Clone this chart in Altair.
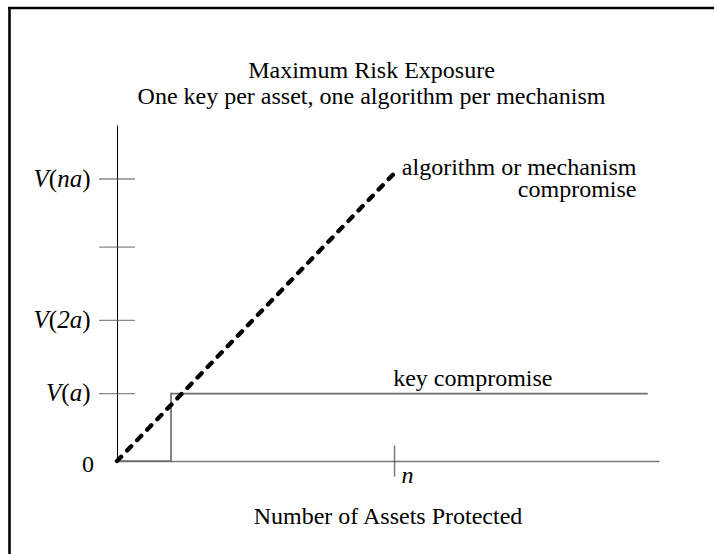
import altair as alt
import pandas as pd

FONT = "Liberation Serif"

# ---- data / text ----
TITLE_LINES = ["Maximum Risk Exposure", "One key per asset, one algorithm per mechanism"]
X_TITLE = "Number of Assets Protected"

# y tick values (units of V(a)) and their labels as (text, italic) pieces
Y_TICK_VALUES = [0.955, 1.995, 3.035, 4.0]
Y_TICK_LABELS = [
    [("V", True), ("(", False), ("a", True), (")", False)],
    [("V", True), ("(", False), ("2a", True), (")", False)],
    [],
    [("V", True), ("(", False), ("na", True), (")", False)],
]
Y_ZERO_LABEL = "0"

N_VALUE = 5.14
N_LABEL = "n"

ALGO_X = [0, 5.14]
ALGO_Y = [0, 4.085]
ALGO_LABEL = ["algorithm or mechanism", "compromise"]
ALGO_LABEL_X = 9.62

KEY_X = [0, 1, 1, 9.83]
KEY_Y = [0, 0, 0.955, 0.955]
KEY_LABEL = "key compromise"
KEY_LABEL_X = 6.59

# ---- layout ----
PX_X = 54.0     # pixels per asset
PX_Y = 70.5     # pixels per V(a)
W, H = 542, 336
PAD = {"left": 117, "top": 125, "right": 55, "bottom": 93}

xs = alt.Scale(domain=[0, W / PX_X], nice=False, zero=False)
ys = alt.Scale(domain=[0, H / PX_Y], nice=False, zero=False)

x_axis = alt.Axis(
    title=X_TITLE, titleFont=FONT, titleFontSize=24, titleFontWeight="normal",
    titleColor="black", titleX=270.5, titleY=62, titleBaseline="alphabetic",
    titleAlign="center", titleAngle=0, labels=False, ticks=False, grid=False,
    domainColor="#777777", domainWidth=1.6,
)
y_axis = alt.Axis(title=None, labels=False, ticks=False, grid=False,
                  domainColor="black", domainWidth=1)


def enc(**kw):
    return dict(x=alt.X("x:Q", scale=xs, axis=x_axis),
                y=alt.Y("y:Q", scale=ys, axis=y_axis), **kw)


layers = []

# key compromise step line
key_df = pd.DataFrame({"x": KEY_X, "y": KEY_Y, "o": list(range(len(KEY_X)))})
layers.append(alt.Chart(key_df).mark_line(color="#6e6e6e", strokeWidth=1.7)
              .encode(**enc(order="o:Q")))

# algorithm or mechanism dashed line
algo_df = pd.DataFrame({"x": ALGO_X, "y": ALGO_Y})
layers.append(alt.Chart(algo_df).mark_line(color="black", strokeWidth=4.3,
                                           strokeDash=[6, 8.5], strokeCap="round")
              .encode(**enc()))

# y ticks crossing the axis
yt_df = pd.DataFrame({"x": [0] * len(Y_TICK_VALUES), "y": Y_TICK_VALUES})
layers.append(alt.Chart(yt_df).mark_tick(orient="horizontal", size=36,
                                         thickness=1.3, color="#555555")
              .encode(**enc()))

# n tick crossing x axis
nt_df = pd.DataFrame({"x": [N_VALUE], "y": [0]})
layers.append(alt.Chart(nt_df).mark_tick(orient="vertical", size=31,
                                         thickness=1.5, color="#444444")
              .encode(**enc()))
layers.append(alt.Chart(nt_df).mark_text(text=N_LABEL, font=FONT, fontSize=24,
                                         fontStyle="italic", align="left",
                                         baseline="alphabetic", dx=7, dy=22,
                                         color="black")
              .encode(**enc()))

# y labels with mixed italic pieces
WIDTH_EM = {"V": 0.611, "(": 0.333, ")": 0.333, "a": 0.5, "n": 0.5, "2": 0.5}
LFS = 25
for val, pieces in zip(Y_TICK_VALUES, Y_TICK_LABELS):
    right = -26.5
    df = pd.DataFrame({"x": [0], "y": [val]})
    for text, ital in reversed(pieces):
        layers.append(alt.Chart(df).mark_text(
            text=text, font=FONT, fontSize=LFS,
            fontStyle="italic" if ital else "normal",
            align="right", baseline="alphabetic", dx=right, dy=7.5, color="black")
            .encode(**enc()))
        right -= sum(WIDTH_EM.get(c, 0.5) for c in text) * LFS

zero_df = pd.DataFrame({"x": [0], "y": [0]})
layers.append(alt.Chart(zero_df).mark_text(text=Y_ZERO_LABEL, font=FONT, fontSize=24,
                                           align="right", baseline="alphabetic",
                                           dx=-23, dy=10.5, color="black")
              .encode(**enc()))

# series labels
kl_df = pd.DataFrame({"x": [KEY_LABEL_X], "y": [KEY_Y[-1]]})
layers.append(alt.Chart(kl_df).mark_text(text=KEY_LABEL, font=FONT, fontSize=24,
                                         align="center", baseline="alphabetic",
                                         dy=-8, color="black")
              .encode(**enc()))
al_df = pd.DataFrame({"x": [ALGO_LABEL_X], "y": [ALGO_Y[-1]]})
layers.append(alt.Chart(al_df).mark_text(text=ALGO_LABEL, font=FONT, fontSize=24,
                                         align="right", baseline="alphabetic",
                                         dy=2, lineHeight=22, color="black")
              .encode(**enc()))

# chart title (two centred lines above the plot)
layers.append(alt.Chart(zero_df).mark_text(
    text=TITLE_LINES, font=FONT, fontSize=24, align="center",
    baseline="alphabetic", lineHeight=26, color="black").encode(
    x=alt.value(371.5 - PAD["left"]), y=alt.value(77.5 - PAD["top"])))

# frame lines (left and top edges of the figure box)
layers.append(alt.Chart(zero_df).mark_rule(color="black", strokeWidth=2.6).encode(
    x=alt.value(9.5 - PAD["left"]), y=alt.value(-PAD["top"] + 7),
    y2=alt.value(554 - PAD["top"])))
layers.append(alt.Chart(zero_df).mark_rule(color="black", strokeWidth=2.6).encode(
    x=alt.value(8.2 - PAD["left"]), x2=alt.value(714 - PAD["left"]),
    y=alt.value(8 - PAD["top"])))

chart = alt.layer(*layers).properties(
    width=W, height=H,
    autosize=alt.AutoSizeParams(type="none"),
    padding=PAD,
    background="white",
).configure_view(strokeWidth=0)

chart.save("out.html", embed_options={"renderer": "svg", "actions": False})
